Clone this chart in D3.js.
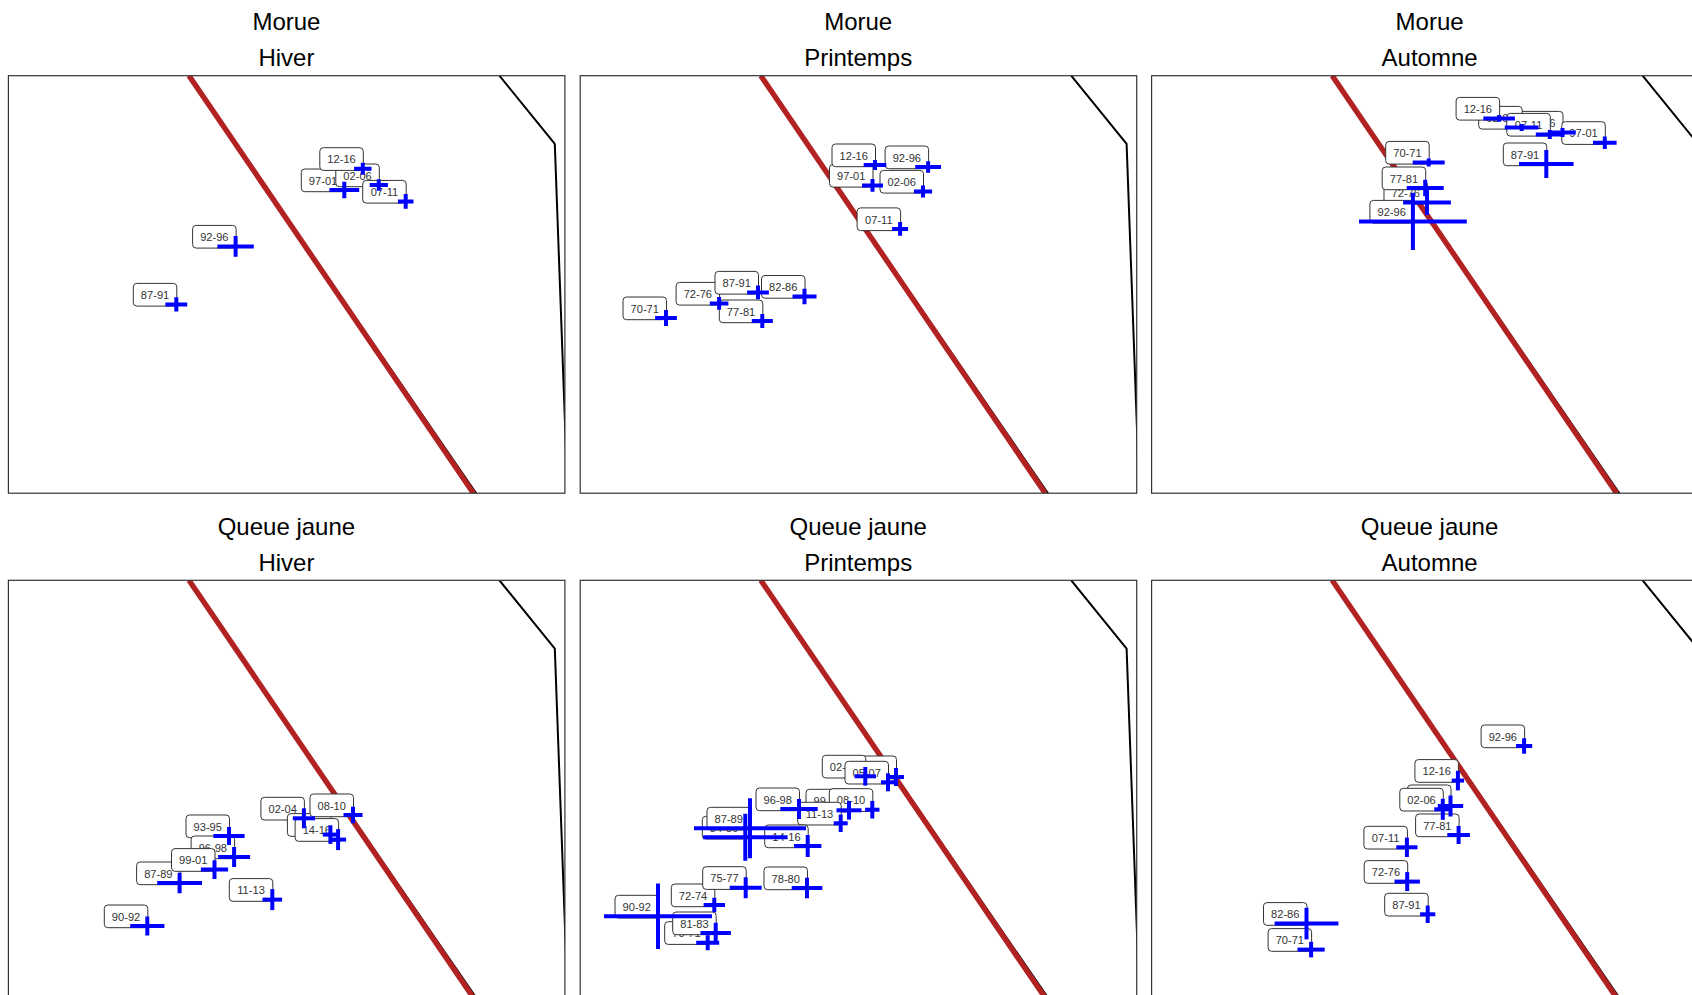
<!DOCTYPE html>
<html>
<head>
<meta charset="utf-8">
<script src="https://cdn.jsdelivr.net/npm/d3@7"></script>
<style>
    html, body { margin: 0; padding: 0; background: white; overflow: hidden; }
    #container { width: 1692px; height: 995px; overflow: hidden; }
    text { font-family: "Liberation Sans", Arial, sans-serif; }
</style>
</head>
<body>
<div id="container"></div>
<script>
// each row: period label, easting, northing, half width, half height (map km)
const morueHiver = [
    ["87-91", 167.9, 188.8, 10.9, 7.2],
    ["92-96", 227.2, 246.8, 18.2, 10.3],
    ["97-01", 335.9, 303.2, 14.9, 8.3],
    ["02-06", 370.4, 308.2, 9.1, 5.7],
    ["07-11", 397.3, 291.8, 7.8, 7.3],
    ["12-16", 354.4, 324.5, 8.7, 6]
];
const moruePrintemps = [
    ["70-71", 85.8, 175.2, 10.9, 8],
    ["72-76", 138.9, 189.8, 9.3, 6.3],
    ["77-81", 182.1, 172.2, 10.5, 7],
    ["82-86", 224.3, 196.7, 12, 7.7],
    ["87-91", 177.8, 200.8, 10.9, 6.8],
    ["92-96", 347.9, 326.2, 12.9, 5.7],
    ["97-01", 292.3, 307.8, 10.5, 6.3],
    ["02-06", 342.8, 301.8, 9.1, 6],
    ["07-11", 319.9, 264.3, 8, 6.8],
    ["12-16", 294.8, 328.2, 11.3, 5]
];
const morueAutomne = [
    ["70-71", 277.1, 330.8, 16, 4],
    ["72-76", 275.4, 290.8, 23.9, 12.7],
    ["77-81", 273.6, 305.2, 18.5, 8.3],
    ["82-86", 410.9, 360.8, 13.3, 4.5],
    ["87-91", 394.7, 329.2, 27.3, 14],
    ["92-96", 261.3, 271.8, 53.9, 28.7],
    ["97-01", 453.2, 350.5, 11.8, 6.3],
    ["02-06", 370.1, 365.8, 16.9, 3.5],
    ["07-11", 398.2, 358.8, 14, 4.5],
    ["12-16", 347.5, 374.8, 15.8, 3.3]
];
const queueHiver = [
    ["87-89", 171.2, 114.8, 22.4, 10.3],
    ["90-92", 138.9, 71.8, 17.1, 9.5],
    ["93-95", 220.6, 161.8, 15.6, 9],
    ["96-98", 225.7, 140.8, 16, 10],
    ["99-01", 206.1, 128.2, 13.6, 9.3],
    ["02-04", 295.5, 179.5, 11.1, 10],
    ["05-07", 322, 163.2, 7.6, 9.3],
    ["08-10", 344.6, 182.8, 9.5, 8.3],
    ["11-13", 263.9, 98.2, 9.8, 10.5],
    ["14-16", 329.7, 158.2, 8, 10.5]
];
const queuePrintemps = [
    ["70-71", 127.5, 55.1, 11.5, 7.5],
    ["72-74", 134.1, 92.8, 10.7, 7.3],
    ["75-77", 165.5, 110.1, 16, 10.5],
    ["78-80", 226.8, 109.8, 15.3, 10.3],
    ["81-83", 135.5, 64.8, 15.2, 10.3],
    ["84-86", 165.1, 160.5, 42.2, 23.5],
    ["87-89", 169.8, 169.5, 56, 30],
    ["90-92", 77.8, 81.5, 54, 32.7],
    ["93-95", 315.8, 220.8, 8, 9],
    ["96-98", 218.8, 188.8, 18.7, 10],
    ["99-01", 268.8, 187.5, 12.5, 9.3],
    ["02-04", 285.1, 221.5, 10.7, 9.3],
    ["05-07", 307.8, 215.5, 7, 9],
    ["08-10", 292.1, 188.1, 7.2, 8.8],
    ["11-13", 260.5, 174.5, 7, 8.7],
    ["14-16", 227.5, 151.8, 13.7, 11]
];
const queueAutomne = [
    ["70-71", 159.5, 48.2, 13.6, 7.8],
    ["72-76", 255.6, 116.2, 12.7, 9.5],
    ["77-81", 307, 162.8, 11.3, 9],
    ["82-86", 154.9, 74.2, 31.9, 15.8],
    ["87-91", 276.1, 83.5, 7.6, 8.7],
    ["92-96", 372.5, 251.8, 8.1, 7.8],
    ["97-01", 298.9, 191.8, 12.7, 10.5],
    ["02-06", 291.2, 188.5, 8.5, 10.5],
    ["07-11", 255.3, 150.5, 10.6, 9.7],
    ["12-16", 306.3, 217.2, 6.2, 9.8]
];

// map outlines, same in every panel
const frontier = [[180.6, 417.5], [465, 0]];
const coast = [[180.6, 417.5], [467.8, 0]];
const boundary = [[491, 417.5], [546.4, 349.3], [558.4, 20]];

const species = ["Morue", "Queue jaune"];
const seasons = ["Hiver", "Printemps", "Automne"];
const panelData = [
    [morueHiver, moruePrintemps, morueAutomne],
    [queueHiver, queuePrintemps, queueAutomne]
];

const panelWidth = 556.5;
const panelHeight = 417.5;
const colLeft = [8.4, 580.2, 1151.6];
const rowTop = [75.7, 580.3];
const labelWidth = 43.5;
const labelHeight = 22.7;

const xScale = d3.scaleLinear().domain([0, 556]).range([0, 556]);
const yScale = d3.scaleLinear().domain([0, 417.5]).range([panelHeight, 0]);
const mapLine = d3.line().x(d => xScale(d[0])).y(d => yScale(d[1]));

const svg = d3.select("#container")
    .append("svg")
    .attr("width", 1692)
    .attr("height", 995);

svg.append("defs").append("clipPath")
    .attr("id", "panel-clip")
    .append("rect")
    .attr("width", panelWidth)
    .attr("height", panelHeight);

species.forEach((name, row) => {
    seasons.forEach((season, col) => {
        const panel = svg.append("g")
            .attr("transform", `translate(${colLeft[col]},${rowTop[row]})`);

        //two strip titles above the panel
        [name, season].forEach((title, i) => {
            panel.append("text")
                .attr("x", 278)
                .attr("y", -45.7 + i * 36)
                .attr("text-anchor", "middle")
                .attr("font-size", 24)
                .attr("fill", "black")
                .text(title);
        });

        const inner = panel.append("g").attr("clip-path", "url(#panel-clip)");

        //coast mostly hidden by the red line, only shows at its lower end
        inner.append("path")
            .attr("d", mapLine(coast))
            .attr("fill", "none")
            .attr("stroke", "black")
            .attr("stroke-width", 2);
        inner.append("path")
            .attr("d", mapLine(frontier))
            .attr("fill", "none")
            .attr("stroke", "#B22222")
            .attr("stroke-width", 5.4);
        inner.append("path")
            .attr("d", mapLine(boundary))
            .attr("fill", "none")
            .attr("stroke", "black")
            .attr("stroke-width", 2);

        const rows = panelData[row][col];

        //labels first, the crosses sit on top of all of them
        rows.forEach(d => {
            const right = xScale(d[1]) + 0.5;
            const bottom = yScale(d[2]) + 1.7;
            inner.append("rect")
                .attr("x", right - labelWidth)
                .attr("y", bottom - labelHeight)
                .attr("width", labelWidth)
                .attr("height", labelHeight)
                .attr("rx", 3.5)
                .attr("fill", "white")
                .attr("stroke", "#333333")
                .attr("stroke-width", 1);
            inner.append("text")
                .attr("x", right - labelWidth / 2)
                .attr("y", bottom - labelHeight / 2 + 4.4)
                .attr("text-anchor", "middle")
                .attr("font-size", 11.1)
                .attr("fill", "#333333")
                .text(d[0]);
        });

        rows.forEach(d => {
            inner.append("line")
                .attr("x1", xScale(d[1] - d[3]))
                .attr("x2", xScale(d[1] + d[3]))
                .attr("y1", yScale(d[2]))
                .attr("y2", yScale(d[2]))
                .attr("stroke", "#0000FF")
                .attr("stroke-width", 4);
            inner.append("line")
                .attr("x1", xScale(d[1]))
                .attr("x2", xScale(d[1]))
                .attr("y1", yScale(d[2] - d[4]))
                .attr("y2", yScale(d[2] + d[4]))
                .attr("stroke", "#0000FF")
                .attr("stroke-width", 4);
        });

        //panel border
        panel.append("rect")
            .attr("width", panelWidth)
            .attr("height", panelHeight)
            .attr("fill", "none")
            .attr("stroke", "#333333")
            .attr("stroke-width", 1.2);
    });
});
</script>
</body>
</html>
